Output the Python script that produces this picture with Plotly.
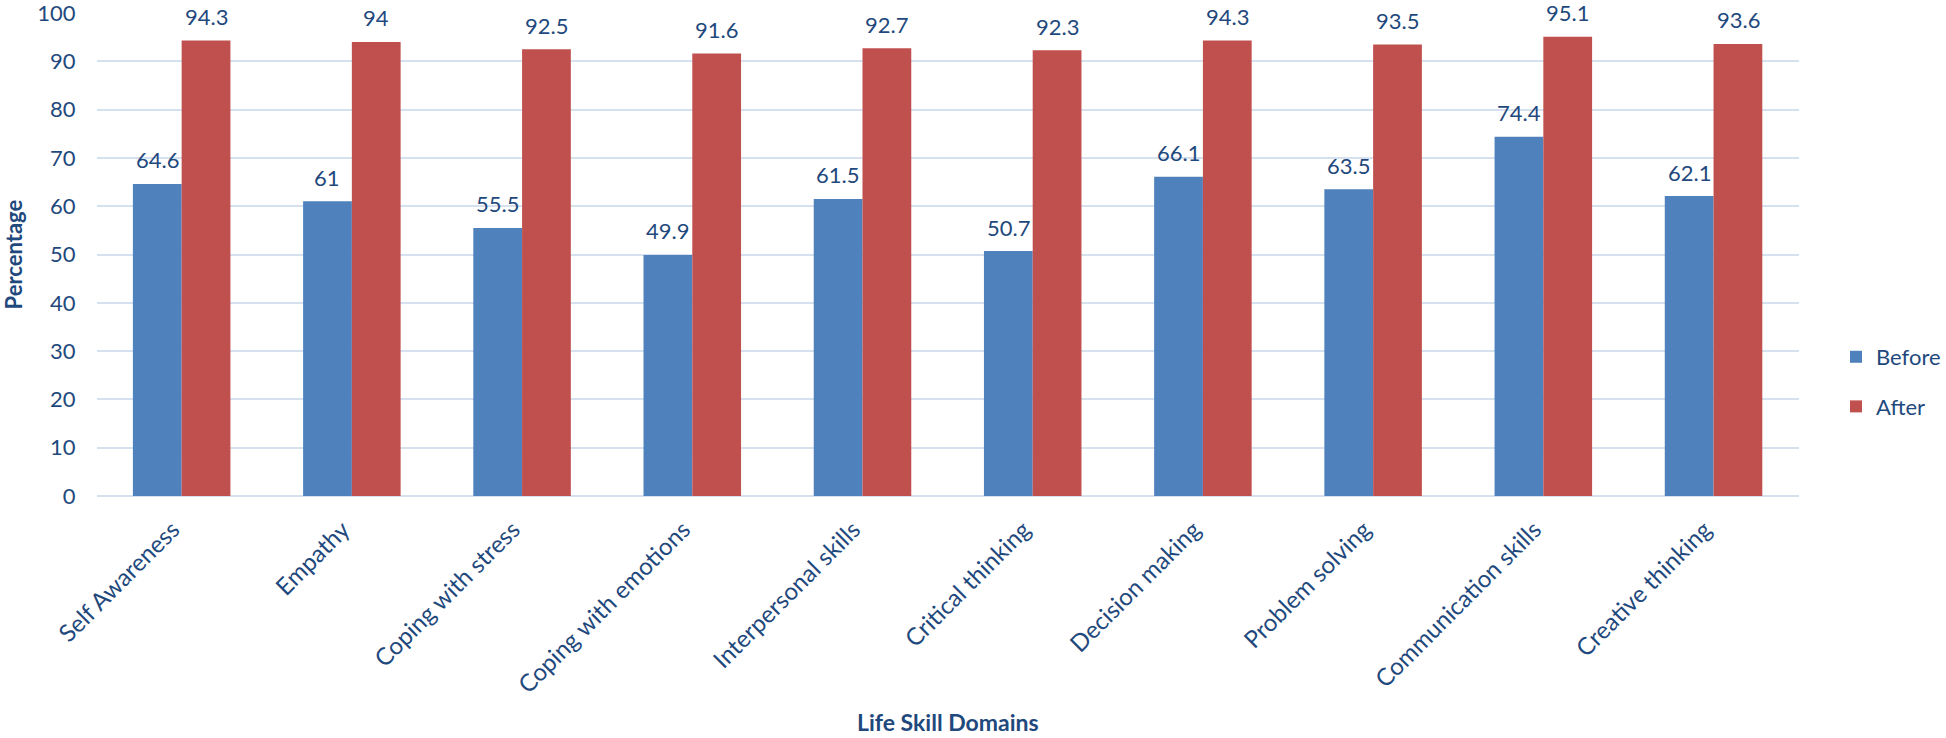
import plotly.graph_objects as go

categories = ["Self Awareness", "Empathy", "Coping with stress", "Coping with emotions",
              "Interpersonal skills", "Critical thinking", "Decision making",
              "Problem solving", "Communication skills", "Creative thinking"]
before = [64.6, 61, 55.5, 49.9, 61.5, 50.7, 66.1, 63.5, 74.4, 62.1]
after = [94.3, 94, 92.5, 91.6, 92.7, 92.3, 94.3, 93.5, 95.1, 93.6]
y_ticks = [0, 10, 20, 30, 40, 50, 60, 70, 80, 90, 100]

TXT = "#1F497D"
FONT = "Lato"
W, H = 1946, 738
X0, X1, Y0, Y1 = 97, 1807, 13, 496  # plot area in px

fig = go.Figure()
fig.add_trace(go.Bar(
    x=categories, y=before, name="Before", legendgroup="b",
    marker=dict(color="#4F81BD", line=dict(width=0)),
))
fig.add_trace(go.Bar(
    x=categories, y=after, name="After", legendgroup="a",
    marker=dict(color="#C0504D", line=dict(width=0)),
))

bar_px = (X1 - X0) / len(categories) * (1 - 0.427) / 2
annotations = []
for series, sign in ((before, -1), (after, 1)):
    for c, v in zip(categories, series):
        annotations.append(dict(
            x=c, y=v, xref="x", yref="y", text=f"{v:g}", showarrow=False,
            xanchor="center", yanchor="middle", xshift=sign * bar_px / 2, yshift=24,
            font=dict(size=22, color=TXT, family=FONT)))

annotations.append(dict(text="<b>Life Skill Domains</b>", xref="paper", yref="paper",
                        x=(X0 + X1) / 2 / W, y=0, xanchor="center", yanchor="bottom",
                        showarrow=False, font=dict(size=23, color=TXT, family=FONT)))
annotations.append(dict(text="<b>Percentage</b>", xref="paper", yref="paper",
                        x=14 / W, y=1 - (Y0 + Y1) / 2 / H, xanchor="center", yanchor="middle",
                        textangle=-90, showarrow=False,
                        font=dict(size=22, color=TXT, family=FONT)))

fig.update_layout(
    width=W, height=H,
    margin=dict(l=0, r=0, t=0, b=0),
    plot_bgcolor="white", paper_bgcolor="white",
    font=dict(family=FONT, size=22, color=TXT),
    barmode="group", bargap=0.427, bargroupgap=0,
    legend=dict(x=1845 / W, xanchor="left", y=1 - 382 / H, yanchor="middle",
                font=dict(size=22, color=TXT, family=FONT),
                traceorder="grouped", tracegroupgap=18,
                itemwidth=30),
    xaxis=dict(domain=[X0 / W, X1 / W], automargin=False,
               tickangle=-45, showgrid=False, showline=False, ticks="",
               ticklabelshift=-9, ticklabelstandoff=14,
               tickfont=dict(size=24, color=TXT, family=FONT)),
    yaxis=dict(domain=[1 - Y1 / H, 1 - Y0 / H], automargin=False,
               range=[0, 100], tickvals=y_ticks, showgrid=True,
               gridcolor="#D6E1F0", gridwidth=2, zeroline=True,
               zerolinecolor="#D6E1F0", zerolinewidth=2,
               ticks="", ticklabelstandoff=20, ticklabeloverflow="allow",
               tickfont=dict(size=22, color=TXT, family=FONT)),
    annotations=annotations,
)

fig.write_html("out.html", config={"displayModeBar": False},
               post_script="document.body.style.margin='0';document.body.style.overflow='hidden';")
